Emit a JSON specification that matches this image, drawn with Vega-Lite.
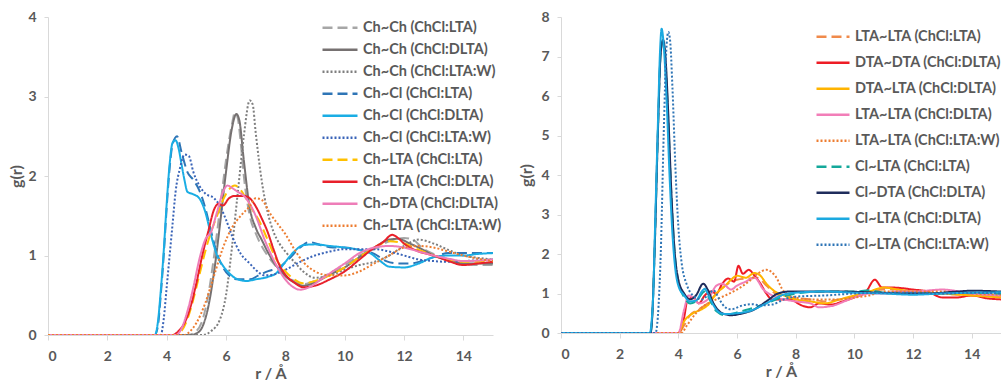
{
"$schema": "https://vega.github.io/schema/vega-lite/v6.json",
"padding": {"left": 8, "top": 10, "right": 0, "bottom": 0},
"autosize": {"type": "pad"},
"spacing": 16,
"config": {
  "font": "Lato",
  "view": {"stroke": null},
  "axis": {"domainColor": "#D9D9D9", "tickColor": "#D9D9D9", "grid": false, "labelColor": "#595959", "labelFontWeight": "bold", "labelFontSize": 14, "titleColor": "#595959", "titleFontWeight": "bold", "titleFontSize": 16, "tickSize": 5, "domainWidth": 1},
  "legend": {"labelColor": "#595959", "labelFontWeight": "bold", "labelFontSize": 14.5, "symbolType": "stroke", "symbolStrokeWidth": 2.5, "labelOffset": 4, "labelLimit": 300}
},
"datasets": {
"L": [
{"s":"Ch~Ch (ChCl:LTA)","r":0,"g":0},{"s":"Ch~Ch (ChCl:LTA)","r":4.7,"g":0},{"s":"Ch~Ch (ChCl:LTA)","r":5.0,"g":0.05},{"s":"Ch~Ch (ChCl:LTA)","r":5.2,"g":0.18},{"s":"Ch~Ch (ChCl:LTA)","r":5.4,"g":0.5},{"s":"Ch~Ch (ChCl:LTA)","r":5.6,"g":1.0},{"s":"Ch~Ch (ChCl:LTA)","r":5.8,"g":1.6},{"s":"Ch~Ch (ChCl:LTA)","r":6.0,"g":2.2},{"s":"Ch~Ch (ChCl:LTA)","r":6.2,"g":2.65},{"s":"Ch~Ch (ChCl:LTA)","r":6.3,"g":2.8},{"s":"Ch~Ch (ChCl:LTA)","r":6.4,"g":2.72},{"s":"Ch~Ch (ChCl:LTA)","r":6.5,"g":2.4},{"s":"Ch~Ch (ChCl:LTA)","r":6.6,"g":2.0},{"s":"Ch~Ch (ChCl:LTA)","r":6.8,"g":1.5},{"s":"Ch~Ch (ChCl:LTA)","r":7.0,"g":1.28},{"s":"Ch~Ch (ChCl:LTA)","r":7.2,"g":1.12},{"s":"Ch~Ch (ChCl:LTA)","r":7.4,"g":1.0},{"s":"Ch~Ch (ChCl:LTA)","r":7.6,"g":0.9},{"s":"Ch~Ch (ChCl:LTA)","r":7.8,"g":0.82},{"s":"Ch~Ch (ChCl:LTA)","r":8.0,"g":0.75},{"s":"Ch~Ch (ChCl:LTA)","r":8.3,"g":0.68},{"s":"Ch~Ch (ChCl:LTA)","r":8.6,"g":0.64},{"s":"Ch~Ch (ChCl:LTA)","r":9.0,"g":0.68},{"s":"Ch~Ch (ChCl:LTA)","r":9.5,"g":0.78},{"s":"Ch~Ch (ChCl:LTA)","r":10.0,"g":0.88},{"s":"Ch~Ch (ChCl:LTA)","r":10.5,"g":1.0},{"s":"Ch~Ch (ChCl:LTA)","r":11.0,"g":1.08},{"s":"Ch~Ch (ChCl:LTA)","r":11.5,"g":1.18},{"s":"Ch~Ch (ChCl:LTA)","r":12.0,"g":1.22},{"s":"Ch~Ch (ChCl:LTA)","r":12.3,"g":1.2},{"s":"Ch~Ch (ChCl:LTA)","r":12.6,"g":1.1},{"s":"Ch~Ch (ChCl:LTA)","r":13.0,"g":1.02},{"s":"Ch~Ch (ChCl:LTA)","r":13.5,"g":0.95},{"s":"Ch~Ch (ChCl:LTA)","r":14.0,"g":0.9},{"s":"Ch~Ch (ChCl:LTA)","r":14.5,"g":0.88},{"s":"Ch~Ch (ChCl:LTA)","r":15,"g":0.88},
{"s":"Ch~Ch (ChCl:DLTA)","r":0,"g":0},{"s":"Ch~Ch (ChCl:DLTA)","r":4.8,"g":0},{"s":"Ch~Ch (ChCl:DLTA)","r":5.0,"g":0.02},{"s":"Ch~Ch (ChCl:DLTA)","r":5.2,"g":0.1},{"s":"Ch~Ch (ChCl:DLTA)","r":5.4,"g":0.35},{"s":"Ch~Ch (ChCl:DLTA)","r":5.6,"g":0.8},{"s":"Ch~Ch (ChCl:DLTA)","r":5.8,"g":1.4},{"s":"Ch~Ch (ChCl:DLTA)","r":6.0,"g":2.05},{"s":"Ch~Ch (ChCl:DLTA)","r":6.2,"g":2.6},{"s":"Ch~Ch (ChCl:DLTA)","r":6.35,"g":2.78},{"s":"Ch~Ch (ChCl:DLTA)","r":6.45,"g":2.7},{"s":"Ch~Ch (ChCl:DLTA)","r":6.6,"g":2.2},{"s":"Ch~Ch (ChCl:DLTA)","r":6.8,"g":1.6},{"s":"Ch~Ch (ChCl:DLTA)","r":7.0,"g":1.35},{"s":"Ch~Ch (ChCl:DLTA)","r":7.2,"g":1.2},{"s":"Ch~Ch (ChCl:DLTA)","r":7.4,"g":1.05},{"s":"Ch~Ch (ChCl:DLTA)","r":7.6,"g":0.92},{"s":"Ch~Ch (ChCl:DLTA)","r":7.8,"g":0.82},{"s":"Ch~Ch (ChCl:DLTA)","r":8.0,"g":0.74},{"s":"Ch~Ch (ChCl:DLTA)","r":8.3,"g":0.66},{"s":"Ch~Ch (ChCl:DLTA)","r":8.6,"g":0.62},{"s":"Ch~Ch (ChCl:DLTA)","r":9.0,"g":0.66},{"s":"Ch~Ch (ChCl:DLTA)","r":9.5,"g":0.76},{"s":"Ch~Ch (ChCl:DLTA)","r":10.0,"g":0.85},{"s":"Ch~Ch (ChCl:DLTA)","r":10.5,"g":0.98},{"s":"Ch~Ch (ChCl:DLTA)","r":11.0,"g":1.1},{"s":"Ch~Ch (ChCl:DLTA)","r":11.5,"g":1.2},{"s":"Ch~Ch (ChCl:DLTA)","r":11.8,"g":1.21},{"s":"Ch~Ch (ChCl:DLTA)","r":12.2,"g":1.15},{"s":"Ch~Ch (ChCl:DLTA)","r":12.6,"g":1.08},{"s":"Ch~Ch (ChCl:DLTA)","r":13.0,"g":1.0},{"s":"Ch~Ch (ChCl:DLTA)","r":13.5,"g":0.94},{"s":"Ch~Ch (ChCl:DLTA)","r":14.0,"g":0.9},{"s":"Ch~Ch (ChCl:DLTA)","r":14.5,"g":0.9},{"s":"Ch~Ch (ChCl:DLTA)","r":15,"g":0.9},
{"s":"Ch~Ch (ChCl:LTA:W)","r":0,"g":0},{"s":"Ch~Ch (ChCl:LTA:W)","r":5.2,"g":0},{"s":"Ch~Ch (ChCl:LTA:W)","r":5.5,"g":0.05},{"s":"Ch~Ch (ChCl:LTA:W)","r":5.8,"g":0.2},{"s":"Ch~Ch (ChCl:LTA:W)","r":6.0,"g":0.5},{"s":"Ch~Ch (ChCl:LTA:W)","r":6.2,"g":1.1},{"s":"Ch~Ch (ChCl:LTA:W)","r":6.4,"g":1.8},{"s":"Ch~Ch (ChCl:LTA:W)","r":6.6,"g":2.5},{"s":"Ch~Ch (ChCl:LTA:W)","r":6.8,"g":2.95},{"s":"Ch~Ch (ChCl:LTA:W)","r":6.9,"g":2.9},{"s":"Ch~Ch (ChCl:LTA:W)","r":7.0,"g":2.55},{"s":"Ch~Ch (ChCl:LTA:W)","r":7.2,"g":1.95},{"s":"Ch~Ch (ChCl:LTA:W)","r":7.4,"g":1.55},{"s":"Ch~Ch (ChCl:LTA:W)","r":7.6,"g":1.3},{"s":"Ch~Ch (ChCl:LTA:W)","r":7.8,"g":1.15},{"s":"Ch~Ch (ChCl:LTA:W)","r":8.0,"g":1.05},{"s":"Ch~Ch (ChCl:LTA:W)","r":8.3,"g":0.92},{"s":"Ch~Ch (ChCl:LTA:W)","r":8.6,"g":0.8},{"s":"Ch~Ch (ChCl:LTA:W)","r":9.0,"g":0.72},{"s":"Ch~Ch (ChCl:LTA:W)","r":9.5,"g":0.75},{"s":"Ch~Ch (ChCl:LTA:W)","r":10.0,"g":0.82},{"s":"Ch~Ch (ChCl:LTA:W)","r":10.5,"g":0.88},{"s":"Ch~Ch (ChCl:LTA:W)","r":11.0,"g":0.92},{"s":"Ch~Ch (ChCl:LTA:W)","r":11.5,"g":1.0},{"s":"Ch~Ch (ChCl:LTA:W)","r":12.0,"g":1.12},{"s":"Ch~Ch (ChCl:LTA:W)","r":12.5,"g":1.2},{"s":"Ch~Ch (ChCl:LTA:W)","r":13.0,"g":1.15},{"s":"Ch~Ch (ChCl:LTA:W)","r":13.5,"g":1.07},{"s":"Ch~Ch (ChCl:LTA:W)","r":14.0,"g":1.0},{"s":"Ch~Ch (ChCl:LTA:W)","r":14.5,"g":0.97},{"s":"Ch~Ch (ChCl:LTA:W)","r":15,"g":0.95},
{"s":"Ch~Cl (ChCl:LTA)","r":0,"g":0},{"s":"Ch~Cl (ChCl:LTA)","r":3.6,"g":0},{"s":"Ch~Cl (ChCl:LTA)","r":3.7,"g":0.1},{"s":"Ch~Cl (ChCl:LTA)","r":3.8,"g":0.5},{"s":"Ch~Cl (ChCl:LTA)","r":3.9,"g":1.0},{"s":"Ch~Cl (ChCl:LTA)","r":4.0,"g":1.6},{"s":"Ch~Cl (ChCl:LTA)","r":4.1,"g":2.1},{"s":"Ch~Cl (ChCl:LTA)","r":4.2,"g":2.4},{"s":"Ch~Cl (ChCl:LTA)","r":4.35,"g":2.5},{"s":"Ch~Cl (ChCl:LTA)","r":4.5,"g":2.3},{"s":"Ch~Cl (ChCl:LTA)","r":4.7,"g":2.05},{"s":"Ch~Cl (ChCl:LTA)","r":4.9,"g":1.95},{"s":"Ch~Cl (ChCl:LTA)","r":5.1,"g":1.82},{"s":"Ch~Cl (ChCl:LTA)","r":5.3,"g":1.6},{"s":"Ch~Cl (ChCl:LTA)","r":5.5,"g":1.3},{"s":"Ch~Cl (ChCl:LTA)","r":5.7,"g":1.02},{"s":"Ch~Cl (ChCl:LTA)","r":5.9,"g":0.85},{"s":"Ch~Cl (ChCl:LTA)","r":6.1,"g":0.75},{"s":"Ch~Cl (ChCl:LTA)","r":6.4,"g":0.7},{"s":"Ch~Cl (ChCl:LTA)","r":6.8,"g":0.7},{"s":"Ch~Cl (ChCl:LTA)","r":7.1,"g":0.75},{"s":"Ch~Cl (ChCl:LTA)","r":7.4,"g":0.8},{"s":"Ch~Cl (ChCl:LTA)","r":7.8,"g":0.85},{"s":"Ch~Cl (ChCl:LTA)","r":8.1,"g":0.95},{"s":"Ch~Cl (ChCl:LTA)","r":8.5,"g":1.1},{"s":"Ch~Cl (ChCl:LTA)","r":8.8,"g":1.17},{"s":"Ch~Cl (ChCl:LTA)","r":9.2,"g":1.13},{"s":"Ch~Cl (ChCl:LTA)","r":9.6,"g":1.1},{"s":"Ch~Cl (ChCl:LTA)","r":10.0,"g":1.1},{"s":"Ch~Cl (ChCl:LTA)","r":10.5,"g":1.07},{"s":"Ch~Cl (ChCl:LTA)","r":11.0,"g":1.02},{"s":"Ch~Cl (ChCl:LTA)","r":11.4,"g":0.93},{"s":"Ch~Cl (ChCl:LTA)","r":11.8,"g":0.9},{"s":"Ch~Cl (ChCl:LTA)","r":12.2,"g":0.9},{"s":"Ch~Cl (ChCl:LTA)","r":12.6,"g":0.93},{"s":"Ch~Cl (ChCl:LTA)","r":13.0,"g":0.98},{"s":"Ch~Cl (ChCl:LTA)","r":13.5,"g":1.03},{"s":"Ch~Cl (ChCl:LTA)","r":14.0,"g":1.03},{"s":"Ch~Cl (ChCl:LTA)","r":15,"g":1.03},
{"s":"Ch~Cl (ChCl:DLTA)","r":0,"g":0},{"s":"Ch~Cl (ChCl:DLTA)","r":3.6,"g":0},{"s":"Ch~Cl (ChCl:DLTA)","r":3.7,"g":0.15},{"s":"Ch~Cl (ChCl:DLTA)","r":3.8,"g":0.55},{"s":"Ch~Cl (ChCl:DLTA)","r":3.9,"g":1.05},{"s":"Ch~Cl (ChCl:DLTA)","r":4.0,"g":1.65},{"s":"Ch~Cl (ChCl:DLTA)","r":4.1,"g":2.15},{"s":"Ch~Cl (ChCl:DLTA)","r":4.2,"g":2.42},{"s":"Ch~Cl (ChCl:DLTA)","r":4.3,"g":2.45},{"s":"Ch~Cl (ChCl:DLTA)","r":4.4,"g":2.35},{"s":"Ch~Cl (ChCl:DLTA)","r":4.5,"g":2.15},{"s":"Ch~Cl (ChCl:DLTA)","r":4.6,"g":1.95},{"s":"Ch~Cl (ChCl:DLTA)","r":4.7,"g":1.8},{"s":"Ch~Cl (ChCl:DLTA)","r":4.9,"g":1.77},{"s":"Ch~Cl (ChCl:DLTA)","r":5.1,"g":1.72},{"s":"Ch~Cl (ChCl:DLTA)","r":5.3,"g":1.55},{"s":"Ch~Cl (ChCl:DLTA)","r":5.5,"g":1.25},{"s":"Ch~Cl (ChCl:DLTA)","r":5.7,"g":1.0},{"s":"Ch~Cl (ChCl:DLTA)","r":5.9,"g":0.87},{"s":"Ch~Cl (ChCl:DLTA)","r":6.1,"g":0.78},{"s":"Ch~Cl (ChCl:DLTA)","r":6.4,"g":0.7},{"s":"Ch~Cl (ChCl:DLTA)","r":6.7,"g":0.68},{"s":"Ch~Cl (ChCl:DLTA)","r":7.0,"g":0.7},{"s":"Ch~Cl (ChCl:DLTA)","r":7.4,"g":0.73},{"s":"Ch~Cl (ChCl:DLTA)","r":7.7,"g":0.78},{"s":"Ch~Cl (ChCl:DLTA)","r":8.0,"g":0.92},{"s":"Ch~Cl (ChCl:DLTA)","r":8.3,"g":1.05},{"s":"Ch~Cl (ChCl:DLTA)","r":8.6,"g":1.13},{"s":"Ch~Cl (ChCl:DLTA)","r":9.0,"g":1.14},{"s":"Ch~Cl (ChCl:DLTA)","r":9.5,"g":1.12},{"s":"Ch~Cl (ChCl:DLTA)","r":10.0,"g":1.1},{"s":"Ch~Cl (ChCl:DLTA)","r":10.5,"g":1.07},{"s":"Ch~Cl (ChCl:DLTA)","r":10.9,"g":1.02},{"s":"Ch~Cl (ChCl:DLTA)","r":11.2,"g":0.93},{"s":"Ch~Cl (ChCl:DLTA)","r":11.5,"g":0.86},{"s":"Ch~Cl (ChCl:DLTA)","r":12.0,"g":0.85},{"s":"Ch~Cl (ChCl:DLTA)","r":12.5,"g":0.9},{"s":"Ch~Cl (ChCl:DLTA)","r":13.0,"g":0.98},{"s":"Ch~Cl (ChCl:DLTA)","r":13.5,"g":1.0},{"s":"Ch~Cl (ChCl:DLTA)","r":14.0,"g":1.0},{"s":"Ch~Cl (ChCl:DLTA)","r":14.5,"g":1.02},{"s":"Ch~Cl (ChCl:DLTA)","r":15,"g":1.03},
{"s":"Ch~Cl (ChCl:LTA:W)","r":0,"g":0},{"s":"Ch~Cl (ChCl:LTA:W)","r":3.8,"g":0},{"s":"Ch~Cl (ChCl:LTA:W)","r":3.9,"g":0.2},{"s":"Ch~Cl (ChCl:LTA:W)","r":4.0,"g":0.6},{"s":"Ch~Cl (ChCl:LTA:W)","r":4.1,"g":1.0},{"s":"Ch~Cl (ChCl:LTA:W)","r":4.2,"g":1.4},{"s":"Ch~Cl (ChCl:LTA:W)","r":4.3,"g":1.8},{"s":"Ch~Cl (ChCl:LTA:W)","r":4.45,"g":2.1},{"s":"Ch~Cl (ChCl:LTA:W)","r":4.6,"g":2.27},{"s":"Ch~Cl (ChCl:LTA:W)","r":4.75,"g":2.25},{"s":"Ch~Cl (ChCl:LTA:W)","r":4.9,"g":2.05},{"s":"Ch~Cl (ChCl:LTA:W)","r":5.1,"g":1.88},{"s":"Ch~Cl (ChCl:LTA:W)","r":5.3,"g":1.78},{"s":"Ch~Cl (ChCl:LTA:W)","r":5.6,"g":1.72},{"s":"Ch~Cl (ChCl:LTA:W)","r":5.8,"g":1.62},{"s":"Ch~Cl (ChCl:LTA:W)","r":6.0,"g":1.45},{"s":"Ch~Cl (ChCl:LTA:W)","r":6.2,"g":1.25},{"s":"Ch~Cl (ChCl:LTA:W)","r":6.5,"g":1.02},{"s":"Ch~Cl (ChCl:LTA:W)","r":6.8,"g":0.9},{"s":"Ch~Cl (ChCl:LTA:W)","r":7.0,"g":0.82},{"s":"Ch~Cl (ChCl:LTA:W)","r":7.3,"g":0.75},{"s":"Ch~Cl (ChCl:LTA:W)","r":7.6,"g":0.76},{"s":"Ch~Cl (ChCl:LTA:W)","r":8.0,"g":0.82},{"s":"Ch~Cl (ChCl:LTA:W)","r":8.5,"g":0.92},{"s":"Ch~Cl (ChCl:LTA:W)","r":9.0,"g":1.0},{"s":"Ch~Cl (ChCl:LTA:W)","r":9.5,"g":1.05},{"s":"Ch~Cl (ChCl:LTA:W)","r":10.0,"g":1.08},{"s":"Ch~Cl (ChCl:LTA:W)","r":10.5,"g":1.08},{"s":"Ch~Cl (ChCl:LTA:W)","r":11.0,"g":1.08},{"s":"Ch~Cl (ChCl:LTA:W)","r":11.5,"g":1.05},{"s":"Ch~Cl (ChCl:LTA:W)","r":12.0,"g":1.0},{"s":"Ch~Cl (ChCl:LTA:W)","r":12.5,"g":0.95},{"s":"Ch~Cl (ChCl:LTA:W)","r":13.0,"g":0.93},{"s":"Ch~Cl (ChCl:LTA:W)","r":13.5,"g":0.92},{"s":"Ch~Cl (ChCl:LTA:W)","r":14.0,"g":0.93},{"s":"Ch~Cl (ChCl:LTA:W)","r":15,"g":0.95},
{"s":"Ch~LTA (ChCl:LTA)","r":0,"g":0},{"s":"Ch~LTA (ChCl:LTA)","r":4.3,"g":0},{"s":"Ch~LTA (ChCl:LTA)","r":4.5,"g":0.05},{"s":"Ch~LTA (ChCl:LTA)","r":4.7,"g":0.2},{"s":"Ch~LTA (ChCl:LTA)","r":4.9,"g":0.45},{"s":"Ch~LTA (ChCl:LTA)","r":5.1,"g":0.75},{"s":"Ch~LTA (ChCl:LTA)","r":5.3,"g":1.05},{"s":"Ch~LTA (ChCl:LTA)","r":5.5,"g":1.3},{"s":"Ch~LTA (ChCl:LTA)","r":5.7,"g":1.5},{"s":"Ch~LTA (ChCl:LTA)","r":5.9,"g":1.7},{"s":"Ch~LTA (ChCl:LTA)","r":6.1,"g":1.83},{"s":"Ch~LTA (ChCl:LTA)","r":6.3,"g":1.88},{"s":"Ch~LTA (ChCl:LTA)","r":6.5,"g":1.82},{"s":"Ch~LTA (ChCl:LTA)","r":6.7,"g":1.7},{"s":"Ch~LTA (ChCl:LTA)","r":6.9,"g":1.57},{"s":"Ch~LTA (ChCl:LTA)","r":7.1,"g":1.45},{"s":"Ch~LTA (ChCl:LTA)","r":7.4,"g":1.2},{"s":"Ch~LTA (ChCl:LTA)","r":7.7,"g":0.95},{"s":"Ch~LTA (ChCl:LTA)","r":8.0,"g":0.8},{"s":"Ch~LTA (ChCl:LTA)","r":8.3,"g":0.7},{"s":"Ch~LTA (ChCl:LTA)","r":8.6,"g":0.65},{"s":"Ch~LTA (ChCl:LTA)","r":9.0,"g":0.68},{"s":"Ch~LTA (ChCl:LTA)","r":9.5,"g":0.75},{"s":"Ch~LTA (ChCl:LTA)","r":10.0,"g":0.85},{"s":"Ch~LTA (ChCl:LTA)","r":10.5,"g":0.98},{"s":"Ch~LTA (ChCl:LTA)","r":11.0,"g":1.1},{"s":"Ch~LTA (ChCl:LTA)","r":11.5,"g":1.18},{"s":"Ch~LTA (ChCl:LTA)","r":12.0,"g":1.15},{"s":"Ch~LTA (ChCl:LTA)","r":12.5,"g":1.07},{"s":"Ch~LTA (ChCl:LTA)","r":13.0,"g":1.0},{"s":"Ch~LTA (ChCl:LTA)","r":13.5,"g":0.95},{"s":"Ch~LTA (ChCl:LTA)","r":14.0,"g":0.92},{"s":"Ch~LTA (ChCl:LTA)","r":15,"g":0.92},
{"s":"Ch~LTA (ChCl:DLTA)","r":0,"g":0},{"s":"Ch~LTA (ChCl:DLTA)","r":4.2,"g":0},{"s":"Ch~LTA (ChCl:DLTA)","r":4.4,"g":0.05},{"s":"Ch~LTA (ChCl:DLTA)","r":4.6,"g":0.15},{"s":"Ch~LTA (ChCl:DLTA)","r":4.8,"g":0.35},{"s":"Ch~LTA (ChCl:DLTA)","r":5.0,"g":0.65},{"s":"Ch~LTA (ChCl:DLTA)","r":5.2,"g":1.0},{"s":"Ch~LTA (ChCl:DLTA)","r":5.4,"g":1.3},{"s":"Ch~LTA (ChCl:DLTA)","r":5.6,"g":1.58},{"s":"Ch~LTA (ChCl:DLTA)","r":5.75,"g":1.65},{"s":"Ch~LTA (ChCl:DLTA)","r":5.9,"g":1.63},{"s":"Ch~LTA (ChCl:DLTA)","r":6.1,"g":1.72},{"s":"Ch~LTA (ChCl:DLTA)","r":6.3,"g":1.75},{"s":"Ch~LTA (ChCl:DLTA)","r":6.6,"g":1.75},{"s":"Ch~LTA (ChCl:DLTA)","r":6.8,"g":1.72},{"s":"Ch~LTA (ChCl:DLTA)","r":7.0,"g":1.62},{"s":"Ch~LTA (ChCl:DLTA)","r":7.2,"g":1.47},{"s":"Ch~LTA (ChCl:DLTA)","r":7.4,"g":1.3},{"s":"Ch~LTA (ChCl:DLTA)","r":7.6,"g":1.08},{"s":"Ch~LTA (ChCl:DLTA)","r":7.8,"g":0.88},{"s":"Ch~LTA (ChCl:DLTA)","r":8.0,"g":0.76},{"s":"Ch~LTA (ChCl:DLTA)","r":8.3,"g":0.66},{"s":"Ch~LTA (ChCl:DLTA)","r":8.6,"g":0.6},{"s":"Ch~LTA (ChCl:DLTA)","r":9.0,"g":0.62},{"s":"Ch~LTA (ChCl:DLTA)","r":9.5,"g":0.7},{"s":"Ch~LTA (ChCl:DLTA)","r":10.0,"g":0.8},{"s":"Ch~LTA (ChCl:DLTA)","r":10.5,"g":0.95},{"s":"Ch~LTA (ChCl:DLTA)","r":11.0,"g":1.1},{"s":"Ch~LTA (ChCl:DLTA)","r":11.3,"g":1.17},{"s":"Ch~LTA (ChCl:DLTA)","r":11.6,"g":1.26},{"s":"Ch~LTA (ChCl:DLTA)","r":11.8,"g":1.22},{"s":"Ch~LTA (ChCl:DLTA)","r":12.0,"g":1.15},{"s":"Ch~LTA (ChCl:DLTA)","r":12.5,"g":1.05},{"s":"Ch~LTA (ChCl:DLTA)","r":13.0,"g":1.0},{"s":"Ch~LTA (ChCl:DLTA)","r":13.5,"g":0.93},{"s":"Ch~LTA (ChCl:DLTA)","r":14.0,"g":0.88},{"s":"Ch~LTA (ChCl:DLTA)","r":14.5,"g":0.9},{"s":"Ch~LTA (ChCl:DLTA)","r":15,"g":0.92},
{"s":"Ch~DTA (ChCl:DLTA)","r":0,"g":0},{"s":"Ch~DTA (ChCl:DLTA)","r":4.3,"g":0},{"s":"Ch~DTA (ChCl:DLTA)","r":4.5,"g":0.08},{"s":"Ch~DTA (ChCl:DLTA)","r":4.7,"g":0.3},{"s":"Ch~DTA (ChCl:DLTA)","r":4.9,"g":0.6},{"s":"Ch~DTA (ChCl:DLTA)","r":5.1,"g":0.95},{"s":"Ch~DTA (ChCl:DLTA)","r":5.3,"g":1.2},{"s":"Ch~DTA (ChCl:DLTA)","r":5.5,"g":1.3},{"s":"Ch~DTA (ChCl:DLTA)","r":5.7,"g":1.55},{"s":"Ch~DTA (ChCl:DLTA)","r":5.9,"g":1.8},{"s":"Ch~DTA (ChCl:DLTA)","r":6.05,"g":1.88},{"s":"Ch~DTA (ChCl:DLTA)","r":6.2,"g":1.85},{"s":"Ch~DTA (ChCl:DLTA)","r":6.4,"g":1.8},{"s":"Ch~DTA (ChCl:DLTA)","r":6.6,"g":1.75},{"s":"Ch~DTA (ChCl:DLTA)","r":6.8,"g":1.65},{"s":"Ch~DTA (ChCl:DLTA)","r":7.0,"g":1.5},{"s":"Ch~DTA (ChCl:DLTA)","r":7.3,"g":1.2},{"s":"Ch~DTA (ChCl:DLTA)","r":7.6,"g":0.95},{"s":"Ch~DTA (ChCl:DLTA)","r":7.9,"g":0.75},{"s":"Ch~DTA (ChCl:DLTA)","r":8.2,"g":0.62},{"s":"Ch~DTA (ChCl:DLTA)","r":8.5,"g":0.57},{"s":"Ch~DTA (ChCl:DLTA)","r":8.8,"g":0.6},{"s":"Ch~DTA (ChCl:DLTA)","r":9.2,"g":0.7},{"s":"Ch~DTA (ChCl:DLTA)","r":9.6,"g":0.8},{"s":"Ch~DTA (ChCl:DLTA)","r":10.0,"g":0.9},{"s":"Ch~DTA (ChCl:DLTA)","r":10.5,"g":1.03},{"s":"Ch~DTA (ChCl:DLTA)","r":11.0,"g":1.1},{"s":"Ch~DTA (ChCl:DLTA)","r":11.5,"g":1.12},{"s":"Ch~DTA (ChCl:DLTA)","r":12.0,"g":1.1},{"s":"Ch~DTA (ChCl:DLTA)","r":12.5,"g":1.05},{"s":"Ch~DTA (ChCl:DLTA)","r":13.0,"g":1.0},{"s":"Ch~DTA (ChCl:DLTA)","r":13.5,"g":0.96},{"s":"Ch~DTA (ChCl:DLTA)","r":14.0,"g":0.93},{"s":"Ch~DTA (ChCl:DLTA)","r":15,"g":0.95},
{"s":"Ch~LTA (ChCl:LTA:W)","r":0,"g":0},{"s":"Ch~LTA (ChCl:LTA:W)","r":4.6,"g":0},{"s":"Ch~LTA (ChCl:LTA:W)","r":4.8,"g":0.05},{"s":"Ch~LTA (ChCl:LTA:W)","r":5.0,"g":0.15},{"s":"Ch~LTA (ChCl:LTA:W)","r":5.3,"g":0.4},{"s":"Ch~LTA (ChCl:LTA:W)","r":5.6,"g":0.75},{"s":"Ch~LTA (ChCl:LTA:W)","r":5.9,"g":1.1},{"s":"Ch~LTA (ChCl:LTA:W)","r":6.2,"g":1.35},{"s":"Ch~LTA (ChCl:LTA:W)","r":6.5,"g":1.5},{"s":"Ch~LTA (ChCl:LTA:W)","r":6.8,"g":1.62},{"s":"Ch~LTA (ChCl:LTA:W)","r":7.0,"g":1.72},{"s":"Ch~LTA (ChCl:LTA:W)","r":7.2,"g":1.7},{"s":"Ch~LTA (ChCl:LTA:W)","r":7.5,"g":1.52},{"s":"Ch~LTA (ChCl:LTA:W)","r":7.8,"g":1.37},{"s":"Ch~LTA (ChCl:LTA:W)","r":8.0,"g":1.27},{"s":"Ch~LTA (ChCl:LTA:W)","r":8.3,"g":1.08},{"s":"Ch~LTA (ChCl:LTA:W)","r":8.6,"g":0.92},{"s":"Ch~LTA (ChCl:LTA:W)","r":9.0,"g":0.8},{"s":"Ch~LTA (ChCl:LTA:W)","r":9.5,"g":0.75},{"s":"Ch~LTA (ChCl:LTA:W)","r":10.0,"g":0.75},{"s":"Ch~LTA (ChCl:LTA:W)","r":10.5,"g":0.8},{"s":"Ch~LTA (ChCl:LTA:W)","r":11.0,"g":0.9},{"s":"Ch~LTA (ChCl:LTA:W)","r":11.5,"g":1.0},{"s":"Ch~LTA (ChCl:LTA:W)","r":12.0,"g":1.1},{"s":"Ch~LTA (ChCl:LTA:W)","r":12.5,"g":1.12},{"s":"Ch~LTA (ChCl:LTA:W)","r":13.0,"g":1.1},{"s":"Ch~LTA (ChCl:LTA:W)","r":13.5,"g":1.05},{"s":"Ch~LTA (ChCl:LTA:W)","r":14.0,"g":1.0},{"s":"Ch~LTA (ChCl:LTA:W)","r":14.5,"g":0.96},{"s":"Ch~LTA (ChCl:LTA:W)","r":15,"g":0.93}
],
"R": [
{"s":"LTA~LTA (ChCl:LTA)","r":0,"g":0},{"s":"LTA~LTA (ChCl:LTA)","r":4.0,"g":0},{"s":"LTA~LTA (ChCl:LTA)","r":4.2,"g":0.2},{"s":"LTA~LTA (ChCl:LTA)","r":4.4,"g":0.45},{"s":"LTA~LTA (ChCl:LTA)","r":4.7,"g":0.6},{"s":"LTA~LTA (ChCl:LTA)","r":5.0,"g":0.75},{"s":"LTA~LTA (ChCl:LTA)","r":5.3,"g":1.0},{"s":"LTA~LTA (ChCl:LTA)","r":5.6,"g":1.2},{"s":"LTA~LTA (ChCl:LTA)","r":6.0,"g":1.35},{"s":"LTA~LTA (ChCl:LTA)","r":6.4,"g":1.38},{"s":"LTA~LTA (ChCl:LTA)","r":6.7,"g":1.4},{"s":"LTA~LTA (ChCl:LTA)","r":7.0,"g":1.2},{"s":"LTA~LTA (ChCl:LTA)","r":7.3,"g":1.0},{"s":"LTA~LTA (ChCl:LTA)","r":7.6,"g":0.92},{"s":"LTA~LTA (ChCl:LTA)","r":8.0,"g":0.88},{"s":"LTA~LTA (ChCl:LTA)","r":8.5,"g":0.85},{"s":"LTA~LTA (ChCl:LTA)","r":9.0,"g":0.8},{"s":"LTA~LTA (ChCl:LTA)","r":9.5,"g":0.85},{"s":"LTA~LTA (ChCl:LTA)","r":10.0,"g":0.92},{"s":"LTA~LTA (ChCl:LTA)","r":10.5,"g":1.02},{"s":"LTA~LTA (ChCl:LTA)","r":11.0,"g":1.1},{"s":"LTA~LTA (ChCl:LTA)","r":11.5,"g":1.1},{"s":"LTA~LTA (ChCl:LTA)","r":12.0,"g":1.05},{"s":"LTA~LTA (ChCl:LTA)","r":13.0,"g":1.0},{"s":"LTA~LTA (ChCl:LTA)","r":14.0,"g":0.95},{"s":"LTA~LTA (ChCl:LTA)","r":15,"g":0.92},
{"s":"DTA~DTA (ChCl:DLTA)","r":0,"g":0},{"s":"DTA~DTA (ChCl:DLTA)","r":4.0,"g":0},{"s":"DTA~DTA (ChCl:DLTA)","r":4.2,"g":0.4},{"s":"DTA~DTA (ChCl:DLTA)","r":4.3,"g":0.8},{"s":"DTA~DTA (ChCl:DLTA)","r":4.5,"g":0.9},{"s":"DTA~DTA (ChCl:DLTA)","r":4.7,"g":0.75},{"s":"DTA~DTA (ChCl:DLTA)","r":4.9,"g":0.95},{"s":"DTA~DTA (ChCl:DLTA)","r":5.1,"g":1.05},{"s":"DTA~DTA (ChCl:DLTA)","r":5.3,"g":1.0},{"s":"DTA~DTA (ChCl:DLTA)","r":5.5,"g":1.25},{"s":"DTA~DTA (ChCl:DLTA)","r":5.7,"g":1.38},{"s":"DTA~DTA (ChCl:DLTA)","r":5.9,"g":1.3},{"s":"DTA~DTA (ChCl:DLTA)","r":6.05,"g":1.7},{"s":"DTA~DTA (ChCl:DLTA)","r":6.2,"g":1.5},{"s":"DTA~DTA (ChCl:DLTA)","r":6.4,"g":1.6},{"s":"DTA~DTA (ChCl:DLTA)","r":6.6,"g":1.45},{"s":"DTA~DTA (ChCl:DLTA)","r":6.8,"g":1.25},{"s":"DTA~DTA (ChCl:DLTA)","r":7.0,"g":1.0},{"s":"DTA~DTA (ChCl:DLTA)","r":7.2,"g":0.85},{"s":"DTA~DTA (ChCl:DLTA)","r":7.4,"g":0.85},{"s":"DTA~DTA (ChCl:DLTA)","r":7.8,"g":0.85},{"s":"DTA~DTA (ChCl:DLTA)","r":8.2,"g":0.7},{"s":"DTA~DTA (ChCl:DLTA)","r":8.5,"g":0.65},{"s":"DTA~DTA (ChCl:DLTA)","r":8.8,"g":0.75},{"s":"DTA~DTA (ChCl:DLTA)","r":9.2,"g":0.72},{"s":"DTA~DTA (ChCl:DLTA)","r":9.6,"g":0.8},{"s":"DTA~DTA (ChCl:DLTA)","r":10.0,"g":0.9},{"s":"DTA~DTA (ChCl:DLTA)","r":10.4,"g":1.05},{"s":"DTA~DTA (ChCl:DLTA)","r":10.7,"g":1.35},{"s":"DTA~DTA (ChCl:DLTA)","r":10.95,"g":1.15},{"s":"DTA~DTA (ChCl:DLTA)","r":11.3,"g":1.15},{"s":"DTA~DTA (ChCl:DLTA)","r":12.0,"g":1.1},{"s":"DTA~DTA (ChCl:DLTA)","r":12.5,"g":1.05},{"s":"DTA~DTA (ChCl:DLTA)","r":13.0,"g":0.9},{"s":"DTA~DTA (ChCl:DLTA)","r":13.5,"g":0.9},{"s":"DTA~DTA (ChCl:DLTA)","r":14.0,"g":0.95},{"s":"DTA~DTA (ChCl:DLTA)","r":14.5,"g":0.88},{"s":"DTA~DTA (ChCl:DLTA)","r":15,"g":0.85},
{"s":"DTA~LTA (ChCl:DLTA)","r":0,"g":0},{"s":"DTA~LTA (ChCl:DLTA)","r":4.0,"g":0},{"s":"DTA~LTA (ChCl:DLTA)","r":4.2,"g":0.3},{"s":"DTA~LTA (ChCl:DLTA)","r":4.5,"g":0.5},{"s":"DTA~LTA (ChCl:DLTA)","r":4.8,"g":0.6},{"s":"DTA~LTA (ChCl:DLTA)","r":5.0,"g":0.7},{"s":"DTA~LTA (ChCl:DLTA)","r":5.3,"g":1.0},{"s":"DTA~LTA (ChCl:DLTA)","r":5.6,"g":1.2},{"s":"DTA~LTA (ChCl:DLTA)","r":5.8,"g":1.35},{"s":"DTA~LTA (ChCl:DLTA)","r":6.0,"g":1.45},{"s":"DTA~LTA (ChCl:DLTA)","r":6.3,"g":1.4},{"s":"DTA~LTA (ChCl:DLTA)","r":6.6,"g":1.52},{"s":"DTA~LTA (ChCl:DLTA)","r":6.8,"g":1.45},{"s":"DTA~LTA (ChCl:DLTA)","r":7.0,"g":1.25},{"s":"DTA~LTA (ChCl:DLTA)","r":7.3,"g":1.05},{"s":"DTA~LTA (ChCl:DLTA)","r":7.6,"g":0.95},{"s":"DTA~LTA (ChCl:DLTA)","r":8.0,"g":0.85},{"s":"DTA~LTA (ChCl:DLTA)","r":8.5,"g":0.8},{"s":"DTA~LTA (ChCl:DLTA)","r":9.0,"g":0.75},{"s":"DTA~LTA (ChCl:DLTA)","r":9.5,"g":0.85},{"s":"DTA~LTA (ChCl:DLTA)","r":10.0,"g":0.95},{"s":"DTA~LTA (ChCl:DLTA)","r":10.5,"g":1.05},{"s":"DTA~LTA (ChCl:DLTA)","r":11.0,"g":1.15},{"s":"DTA~LTA (ChCl:DLTA)","r":11.5,"g":1.1},{"s":"DTA~LTA (ChCl:DLTA)","r":12.0,"g":1.05},{"s":"DTA~LTA (ChCl:DLTA)","r":13.0,"g":1.0},{"s":"DTA~LTA (ChCl:DLTA)","r":14.0,"g":0.95},{"s":"DTA~LTA (ChCl:DLTA)","r":15,"g":0.9},
{"s":"LTA~LTA (ChCl:DLTA)","r":0,"g":0},{"s":"LTA~LTA (ChCl:DLTA)","r":4.0,"g":0},{"s":"LTA~LTA (ChCl:DLTA)","r":4.2,"g":0.6},{"s":"LTA~LTA (ChCl:DLTA)","r":4.35,"g":0.95},{"s":"LTA~LTA (ChCl:DLTA)","r":4.5,"g":0.9},{"s":"LTA~LTA (ChCl:DLTA)","r":4.7,"g":0.75},{"s":"LTA~LTA (ChCl:DLTA)","r":5.0,"g":0.85},{"s":"LTA~LTA (ChCl:DLTA)","r":5.3,"g":1.2},{"s":"LTA~LTA (ChCl:DLTA)","r":5.5,"g":1.25},{"s":"LTA~LTA (ChCl:DLTA)","r":5.8,"g":1.1},{"s":"LTA~LTA (ChCl:DLTA)","r":6.0,"g":1.2},{"s":"LTA~LTA (ChCl:DLTA)","r":6.3,"g":1.3},{"s":"LTA~LTA (ChCl:DLTA)","r":6.6,"g":1.4},{"s":"LTA~LTA (ChCl:DLTA)","r":6.9,"g":1.1},{"s":"LTA~LTA (ChCl:DLTA)","r":7.2,"g":0.95},{"s":"LTA~LTA (ChCl:DLTA)","r":7.6,"g":0.85},{"s":"LTA~LTA (ChCl:DLTA)","r":8.0,"g":0.8},{"s":"LTA~LTA (ChCl:DLTA)","r":8.5,"g":0.75},{"s":"LTA~LTA (ChCl:DLTA)","r":8.8,"g":0.65},{"s":"LTA~LTA (ChCl:DLTA)","r":9.2,"g":0.68},{"s":"LTA~LTA (ChCl:DLTA)","r":10.0,"g":0.9},{"s":"LTA~LTA (ChCl:DLTA)","r":10.5,"g":1.0},{"s":"LTA~LTA (ChCl:DLTA)","r":11.0,"g":1.0},{"s":"LTA~LTA (ChCl:DLTA)","r":11.5,"g":1.05},{"s":"LTA~LTA (ChCl:DLTA)","r":12.0,"g":1.05},{"s":"LTA~LTA (ChCl:DLTA)","r":13.0,"g":1.1},{"s":"LTA~LTA (ChCl:DLTA)","r":14.0,"g":1.0},{"s":"LTA~LTA (ChCl:DLTA)","r":15,"g":0.95},
{"s":"LTA~LTA (ChCl:LTA:W)","r":0,"g":0},{"s":"LTA~LTA (ChCl:LTA:W)","r":4.1,"g":0},{"s":"LTA~LTA (ChCl:LTA:W)","r":4.3,"g":0.2},{"s":"LTA~LTA (ChCl:LTA:W)","r":4.6,"g":0.5},{"s":"LTA~LTA (ChCl:LTA:W)","r":5.0,"g":0.75},{"s":"LTA~LTA (ChCl:LTA:W)","r":5.3,"g":0.85},{"s":"LTA~LTA (ChCl:LTA:W)","r":5.6,"g":0.95},{"s":"LTA~LTA (ChCl:LTA:W)","r":6.0,"g":1.1},{"s":"LTA~LTA (ChCl:LTA:W)","r":6.4,"g":1.3},{"s":"LTA~LTA (ChCl:LTA:W)","r":6.7,"g":1.5},{"s":"LTA~LTA (ChCl:LTA:W)","r":7.0,"g":1.6},{"s":"LTA~LTA (ChCl:LTA:W)","r":7.3,"g":1.45},{"s":"LTA~LTA (ChCl:LTA:W)","r":7.6,"g":1.05},{"s":"LTA~LTA (ChCl:LTA:W)","r":8.0,"g":0.9},{"s":"LTA~LTA (ChCl:LTA:W)","r":8.5,"g":0.85},{"s":"LTA~LTA (ChCl:LTA:W)","r":9.0,"g":0.85},{"s":"LTA~LTA (ChCl:LTA:W)","r":9.5,"g":0.85},{"s":"LTA~LTA (ChCl:LTA:W)","r":10.0,"g":0.9},{"s":"LTA~LTA (ChCl:LTA:W)","r":10.5,"g":0.95},{"s":"LTA~LTA (ChCl:LTA:W)","r":11.0,"g":1.05},{"s":"LTA~LTA (ChCl:LTA:W)","r":12.0,"g":1.05},{"s":"LTA~LTA (ChCl:LTA:W)","r":13.0,"g":1.05},{"s":"LTA~LTA (ChCl:LTA:W)","r":14.0,"g":1.0},{"s":"LTA~LTA (ChCl:LTA:W)","r":15,"g":0.97},
{"s":"Cl~LTA (ChCl:LTA)","r":0,"g":0},{"s":"Cl~LTA (ChCl:LTA)","r":3.05,"g":0},{"s":"Cl~LTA (ChCl:LTA)","r":3.1,"g":0.3},{"s":"Cl~LTA (ChCl:LTA)","r":3.2,"g":2.3},{"s":"Cl~LTA (ChCl:LTA)","r":3.3,"g":5.0},{"s":"Cl~LTA (ChCl:LTA)","r":3.4,"g":7.1},{"s":"Cl~LTA (ChCl:LTA)","r":3.47,"g":7.4},{"s":"Cl~LTA (ChCl:LTA)","r":3.55,"g":7.0},{"s":"Cl~LTA (ChCl:LTA)","r":3.65,"g":5.5},{"s":"Cl~LTA (ChCl:LTA)","r":3.75,"g":3.7},{"s":"Cl~LTA (ChCl:LTA)","r":3.85,"g":2.3},{"s":"Cl~LTA (ChCl:LTA)","r":4.0,"g":1.3},{"s":"Cl~LTA (ChCl:LTA)","r":4.2,"g":0.9},{"s":"Cl~LTA (ChCl:LTA)","r":4.4,"g":0.75},{"s":"Cl~LTA (ChCl:LTA)","r":4.6,"g":0.8},{"s":"Cl~LTA (ChCl:LTA)","r":4.9,"g":1.05},{"s":"Cl~LTA (ChCl:LTA)","r":5.1,"g":0.8},{"s":"Cl~LTA (ChCl:LTA)","r":5.3,"g":0.55},{"s":"Cl~LTA (ChCl:LTA)","r":5.6,"g":0.45},{"s":"Cl~LTA (ChCl:LTA)","r":6.0,"g":0.52},{"s":"Cl~LTA (ChCl:LTA)","r":6.4,"g":0.6},{"s":"Cl~LTA (ChCl:LTA)","r":7.0,"g":0.75},{"s":"Cl~LTA (ChCl:LTA)","r":7.5,"g":0.9},{"s":"Cl~LTA (ChCl:LTA)","r":8.0,"g":1.0},{"s":"Cl~LTA (ChCl:LTA)","r":9.0,"g":1.05},{"s":"Cl~LTA (ChCl:LTA)","r":10.0,"g":1.05},{"s":"Cl~LTA (ChCl:LTA)","r":10.5,"g":1.08},{"s":"Cl~LTA (ChCl:LTA)","r":11.0,"g":1.02},{"s":"Cl~LTA (ChCl:LTA)","r":12.0,"g":1.0},{"s":"Cl~LTA (ChCl:LTA)","r":13.0,"g":1.0},{"s":"Cl~LTA (ChCl:LTA)","r":14.0,"g":1.02},{"s":"Cl~LTA (ChCl:LTA)","r":15,"g":1.0},
{"s":"Cl~DTA (ChCl:DLTA)","r":0,"g":0},{"s":"Cl~DTA (ChCl:DLTA)","r":3.05,"g":0},{"s":"Cl~DTA (ChCl:DLTA)","r":3.1,"g":0.3},{"s":"Cl~DTA (ChCl:DLTA)","r":3.2,"g":2.3},{"s":"Cl~DTA (ChCl:DLTA)","r":3.3,"g":5.0},{"s":"Cl~DTA (ChCl:DLTA)","r":3.4,"g":7.1},{"s":"Cl~DTA (ChCl:DLTA)","r":3.48,"g":7.42},{"s":"Cl~DTA (ChCl:DLTA)","r":3.56,"g":7.0},{"s":"Cl~DTA (ChCl:DLTA)","r":3.66,"g":5.5},{"s":"Cl~DTA (ChCl:DLTA)","r":3.76,"g":3.6},{"s":"Cl~DTA (ChCl:DLTA)","r":3.87,"g":2.1},{"s":"Cl~DTA (ChCl:DLTA)","r":4.0,"g":1.35},{"s":"Cl~DTA (ChCl:DLTA)","r":4.2,"g":1.0},{"s":"Cl~DTA (ChCl:DLTA)","r":4.4,"g":0.85},{"s":"Cl~DTA (ChCl:DLTA)","r":4.6,"g":0.95},{"s":"Cl~DTA (ChCl:DLTA)","r":4.85,"g":1.25},{"s":"Cl~DTA (ChCl:DLTA)","r":5.0,"g":1.1},{"s":"Cl~DTA (ChCl:DLTA)","r":5.2,"g":0.75},{"s":"Cl~DTA (ChCl:DLTA)","r":5.5,"g":0.5},{"s":"Cl~DTA (ChCl:DLTA)","r":5.8,"g":0.45},{"s":"Cl~DTA (ChCl:DLTA)","r":6.2,"g":0.5},{"s":"Cl~DTA (ChCl:DLTA)","r":6.6,"g":0.6},{"s":"Cl~DTA (ChCl:DLTA)","r":7.0,"g":0.8},{"s":"Cl~DTA (ChCl:DLTA)","r":7.4,"g":1.0},{"s":"Cl~DTA (ChCl:DLTA)","r":7.8,"g":1.05},{"s":"Cl~DTA (ChCl:DLTA)","r":8.5,"g":1.05},{"s":"Cl~DTA (ChCl:DLTA)","r":9.5,"g":1.05},{"s":"Cl~DTA (ChCl:DLTA)","r":10.5,"g":1.03},{"s":"Cl~DTA (ChCl:DLTA)","r":11.5,"g":1.0},{"s":"Cl~DTA (ChCl:DLTA)","r":12.5,"g":1.0},{"s":"Cl~DTA (ChCl:DLTA)","r":13.5,"g":1.05},{"s":"Cl~DTA (ChCl:DLTA)","r":14.0,"g":1.07},{"s":"Cl~DTA (ChCl:DLTA)","r":15,"g":1.05},
{"s":"Cl~LTA (ChCl:DLTA)","r":0,"g":0},{"s":"Cl~LTA (ChCl:DLTA)","r":3.03,"g":0},{"s":"Cl~LTA (ChCl:DLTA)","r":3.1,"g":0.4},{"s":"Cl~LTA (ChCl:DLTA)","r":3.15,"g":1.1},{"s":"Cl~LTA (ChCl:DLTA)","r":3.2,"g":2.5},{"s":"Cl~LTA (ChCl:DLTA)","r":3.3,"g":5.2},{"s":"Cl~LTA (ChCl:DLTA)","r":3.38,"g":7.2},{"s":"Cl~LTA (ChCl:DLTA)","r":3.43,"g":7.7},{"s":"Cl~LTA (ChCl:DLTA)","r":3.5,"g":7.3},{"s":"Cl~LTA (ChCl:DLTA)","r":3.6,"g":5.9},{"s":"Cl~LTA (ChCl:DLTA)","r":3.7,"g":4.0},{"s":"Cl~LTA (ChCl:DLTA)","r":3.8,"g":2.5},{"s":"Cl~LTA (ChCl:DLTA)","r":3.9,"g":1.6},{"s":"Cl~LTA (ChCl:DLTA)","r":4.0,"g":1.2},{"s":"Cl~LTA (ChCl:DLTA)","r":4.2,"g":0.95},{"s":"Cl~LTA (ChCl:DLTA)","r":4.4,"g":0.8},{"s":"Cl~LTA (ChCl:DLTA)","r":4.6,"g":0.82},{"s":"Cl~LTA (ChCl:DLTA)","r":4.8,"g":1.05},{"s":"Cl~LTA (ChCl:DLTA)","r":4.9,"g":1.12},{"s":"Cl~LTA (ChCl:DLTA)","r":5.0,"g":1.0},{"s":"Cl~LTA (ChCl:DLTA)","r":5.2,"g":0.7},{"s":"Cl~LTA (ChCl:DLTA)","r":5.4,"g":0.52},{"s":"Cl~LTA (ChCl:DLTA)","r":5.6,"g":0.48},{"s":"Cl~LTA (ChCl:DLTA)","r":6.0,"g":0.5},{"s":"Cl~LTA (ChCl:DLTA)","r":6.4,"g":0.55},{"s":"Cl~LTA (ChCl:DLTA)","r":7.0,"g":0.75},{"s":"Cl~LTA (ChCl:DLTA)","r":7.5,"g":0.95},{"s":"Cl~LTA (ChCl:DLTA)","r":8.0,"g":1.02},{"s":"Cl~LTA (ChCl:DLTA)","r":9.0,"g":1.05},{"s":"Cl~LTA (ChCl:DLTA)","r":10.0,"g":1.02},{"s":"Cl~LTA (ChCl:DLTA)","r":11.0,"g":1.0},{"s":"Cl~LTA (ChCl:DLTA)","r":12.0,"g":0.97},{"s":"Cl~LTA (ChCl:DLTA)","r":13.0,"g":1.0},{"s":"Cl~LTA (ChCl:DLTA)","r":14.0,"g":1.02},{"s":"Cl~LTA (ChCl:DLTA)","r":15,"g":1.03},
{"s":"Cl~LTA (ChCl:LTA:W)","r":0,"g":0},{"s":"Cl~LTA (ChCl:LTA:W)","r":3.22,"g":0},{"s":"Cl~LTA (ChCl:LTA:W)","r":3.3,"g":0.4},{"s":"Cl~LTA (ChCl:LTA:W)","r":3.4,"g":2.0},{"s":"Cl~LTA (ChCl:LTA:W)","r":3.5,"g":5.0},{"s":"Cl~LTA (ChCl:LTA:W)","r":3.6,"g":7.3},{"s":"Cl~LTA (ChCl:LTA:W)","r":3.66,"g":7.62},{"s":"Cl~LTA (ChCl:LTA:W)","r":3.72,"g":7.4},{"s":"Cl~LTA (ChCl:LTA:W)","r":3.8,"g":6.2},{"s":"Cl~LTA (ChCl:LTA:W)","r":3.9,"g":4.2},{"s":"Cl~LTA (ChCl:LTA:W)","r":4.0,"g":2.7},{"s":"Cl~LTA (ChCl:LTA:W)","r":4.1,"g":1.85},{"s":"Cl~LTA (ChCl:LTA:W)","r":4.3,"g":1.2},{"s":"Cl~LTA (ChCl:LTA:W)","r":4.5,"g":0.95},{"s":"Cl~LTA (ChCl:LTA:W)","r":4.8,"g":0.85},{"s":"Cl~LTA (ChCl:LTA:W)","r":5.0,"g":0.95},{"s":"Cl~LTA (ChCl:LTA:W)","r":5.2,"g":1.08},{"s":"Cl~LTA (ChCl:LTA:W)","r":5.4,"g":0.85},{"s":"Cl~LTA (ChCl:LTA:W)","r":5.6,"g":0.65},{"s":"Cl~LTA (ChCl:LTA:W)","r":5.8,"g":0.6},{"s":"Cl~LTA (ChCl:LTA:W)","r":6.2,"g":0.7},{"s":"Cl~LTA (ChCl:LTA:W)","r":6.5,"g":0.73},{"s":"Cl~LTA (ChCl:LTA:W)","r":6.8,"g":0.7},{"s":"Cl~LTA (ChCl:LTA:W)","r":7.2,"g":0.72},{"s":"Cl~LTA (ChCl:LTA:W)","r":7.6,"g":0.85},{"s":"Cl~LTA (ChCl:LTA:W)","r":8.0,"g":0.92},{"s":"Cl~LTA (ChCl:LTA:W)","r":9.0,"g":0.95},{"s":"Cl~LTA (ChCl:LTA:W)","r":10.0,"g":1.0},{"s":"Cl~LTA (ChCl:LTA:W)","r":11.0,"g":1.02},{"s":"Cl~LTA (ChCl:LTA:W)","r":12.0,"g":1.02},{"s":"Cl~LTA (ChCl:LTA:W)","r":13.0,"g":1.0},{"s":"Cl~LTA (ChCl:LTA:W)","r":14.0,"g":1.02},{"s":"Cl~LTA (ChCl:LTA:W)","r":15,"g":1.0}
]
},
"hconcat": [
{
  "width": 445, "height": 318,
  "data": {"name": "L"},
  "mark": {"type": "line", "strokeWidth": 2, "interpolate": "monotone", "clip": true},
  "encoding": {
    "x": {"field": "r", "type": "quantitative", "title": "r / Å", "scale": {"domain": [0, 15], "nice": false}, "axis": {"values": [0,2,4,6,8,10,12,14], "labelPadding": 9, "titlePadding": 2}},
    "y": {"field": "g", "type": "quantitative", "title": "g(r)", "scale": {"domain": [0, 4], "nice": false}, "axis": {"values": [0,1,2,3,4], "tickSize": 4, "labelPadding": 8, "titlePadding": 3}},
    "color": {"field": "s", "type": "nominal", "sort": null,
      "scale": {"domain": ["Ch~Ch (ChCl:LTA)","Ch~Ch (ChCl:DLTA)","Ch~Ch (ChCl:LTA:W)","Ch~Cl (ChCl:LTA)","Ch~Cl (ChCl:DLTA)","Ch~Cl (ChCl:LTA:W)","Ch~LTA (ChCl:LTA)","Ch~LTA (ChCl:DLTA)","Ch~DTA (ChCl:DLTA)","Ch~LTA (ChCl:LTA:W)"],
        "range": ["#A6A6A6","#767171","#7F7F7F","#2E75B6","#1AADE4","#3A64B8","#FFC000","#E8202A","#EE7DB8","#ED7D31"]},
      "legend": {"title": null, "orient": "none", "legendX": 273, "legendY": 0, "symbolSize": 1225, "clipHeight": 21.5, "rowPadding": 0}},
    "strokeDash": {"field": "s", "type": "nominal", "sort": null,
      "scale": {"domain": ["Ch~Ch (ChCl:LTA)","Ch~Ch (ChCl:DLTA)","Ch~Ch (ChCl:LTA:W)","Ch~Cl (ChCl:LTA)","Ch~Cl (ChCl:DLTA)","Ch~Cl (ChCl:LTA:W)","Ch~LTA (ChCl:LTA)","Ch~LTA (ChCl:DLTA)","Ch~DTA (ChCl:DLTA)","Ch~LTA (ChCl:LTA:W)"],
        "range": [[10,5],[1,0],[2,2],[10,5],[1,0],[2,2],[10,5],[1,0],[1,0],[2,2]]},
      "legend": {"title": null, "orient": "none", "legendX": 273, "legendY": 0, "symbolSize": 1225, "clipHeight": 21.5, "rowPadding": 0}}
  }
},
{
  "width": 440, "height": 316,
  "data": {"name": "R"},
  "mark": {"type": "line", "strokeWidth": 2, "interpolate": "monotone", "clip": true},
  "encoding": {
    "x": {"field": "r", "type": "quantitative", "title": "r / Å", "scale": {"domain": [0, 15], "nice": false}, "axis": {"values": [0,2,4,6,8,10,12,14], "labelPadding": 9, "titlePadding": 2}},
    "y": {"field": "g", "type": "quantitative", "title": "g(r)", "scale": {"domain": [0, 8], "nice": false}, "axis": {"values": [0,1,2,3,4,5,6,7,8], "tickSize": 4, "labelPadding": 8, "titlePadding": 6}},
    "color": {"field": "s", "type": "nominal", "sort": null,
      "scale": {"domain": ["LTA~LTA (ChCl:LTA)","DTA~DTA (ChCl:DLTA)","DTA~LTA (ChCl:DLTA)","LTA~LTA (ChCl:DLTA)","LTA~LTA (ChCl:LTA:W)","Cl~LTA (ChCl:LTA)","Cl~DTA (ChCl:DLTA)","Cl~LTA (ChCl:DLTA)","Cl~LTA (ChCl:LTA:W)"],
        "range": ["#F08A4B","#EE1C25","#FFB400","#F27EB8","#ED7D31","#14A89A","#1F2D5C","#1BA9E0","#2E75B6"]},
      "legend": {"title": null, "orient": "none", "legendX": 254, "legendY": 7, "symbolSize": 1089, "clipHeight": 25.4, "rowPadding": 0}},
    "strokeDash": {"field": "s", "type": "nominal", "sort": null,
      "scale": {"domain": ["LTA~LTA (ChCl:LTA)","DTA~DTA (ChCl:DLTA)","DTA~LTA (ChCl:DLTA)","LTA~LTA (ChCl:DLTA)","LTA~LTA (ChCl:LTA:W)","Cl~LTA (ChCl:LTA)","Cl~DTA (ChCl:DLTA)","Cl~LTA (ChCl:DLTA)","Cl~LTA (ChCl:LTA:W)"],
        "range": [[10,5],[1,0],[1,0],[1,0],[2,2],[10,5],[1,0],[1,0],[2,2]]},
      "legend": {"title": null, "orient": "none", "legendX": 254, "legendY": 7, "symbolSize": 1089, "clipHeight": 25.4, "rowPadding": 0}}
  }
}
],
"resolve": {"scale": {"color": "independent", "strokeDash": "independent"}, "legend": {"color": "independent", "strokeDash": "independent"}}
}
